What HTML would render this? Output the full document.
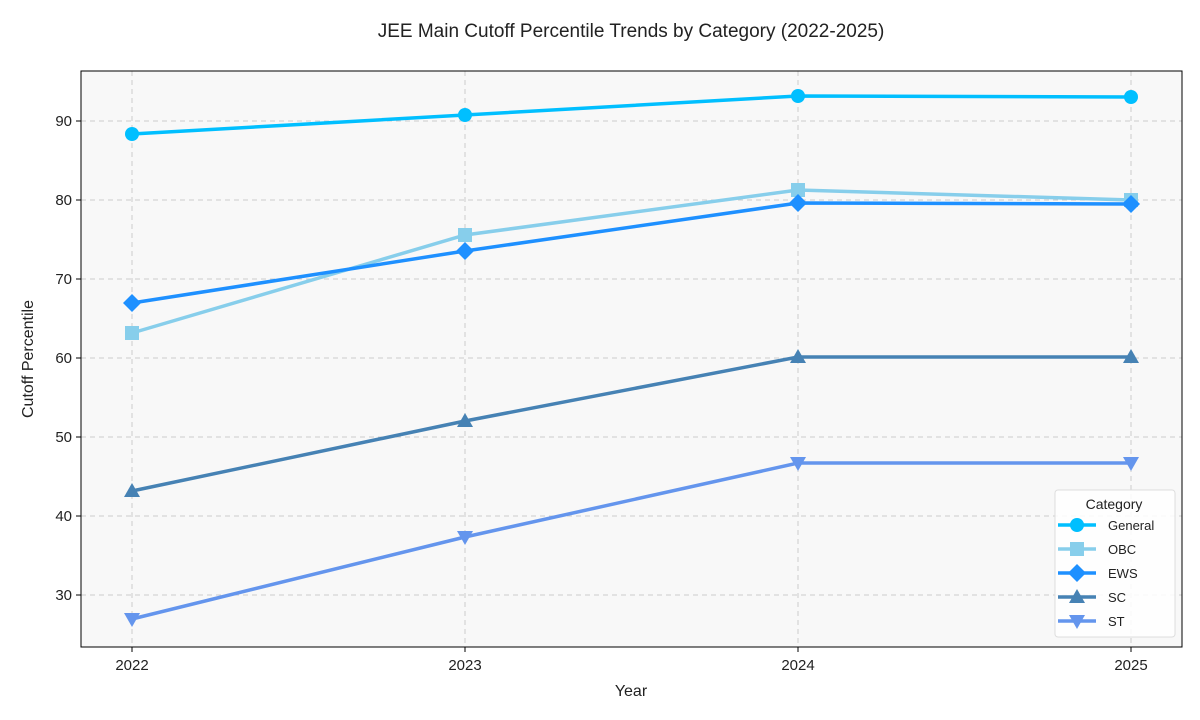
<!DOCTYPE html>
<html><head><meta charset="utf-8"><style>body{margin:0;background:#fff}svg{display:block}text{font-family:"Liberation Sans",sans-serif;fill:#222}</style></head><body>
<svg width="1200" height="720" viewBox="0 0 1200 720">
<rect x="81" y="71" width="1101" height="576" fill="#f8f8f8"/>
<g stroke="#cccccc" stroke-dasharray="5,4" stroke-width="1">
<line x1="132" y1="71" x2="132" y2="647"/><line x1="465" y1="71" x2="465" y2="647"/><line x1="798" y1="71" x2="798" y2="647"/><line x1="1131" y1="71" x2="1131" y2="647"/>
<line x1="81" y1="121" x2="1182" y2="121"/><line x1="81" y1="200" x2="1182" y2="200"/><line x1="81" y1="279" x2="1182" y2="279"/><line x1="81" y1="358" x2="1182" y2="358"/><line x1="81" y1="437" x2="1182" y2="437"/><line x1="81" y1="516" x2="1182" y2="516"/><line x1="81" y1="595" x2="1182" y2="595"/>
</g>
<rect x="81" y="71" width="1101" height="576" fill="none" stroke="#000" stroke-width="1"/>
<g stroke="#000"><line x1="132" y1="647" x2="132" y2="652"/><line x1="465" y1="647" x2="465" y2="652"/><line x1="798" y1="647" x2="798" y2="652"/><line x1="1131" y1="647" x2="1131" y2="652"/>
<line x1="76" y1="121" x2="81" y2="121"/><line x1="76" y1="200" x2="81" y2="200"/><line x1="76" y1="279" x2="81" y2="279"/><line x1="76" y1="358" x2="81" y2="358"/><line x1="76" y1="437" x2="81" y2="437"/><line x1="76" y1="516" x2="81" y2="516"/><line x1="76" y1="595" x2="81" y2="595"/></g>
<g font-size="15" text-anchor="middle"><text x="132" y="670">2022</text><text x="465" y="670">2023</text><text x="798" y="670">2024</text><text x="1131" y="670">2025</text></g>
<g font-size="15" text-anchor="end"><text x="72" y="126">90</text><text x="72" y="205">80</text><text x="72" y="284">70</text><text x="72" y="363">60</text><text x="72" y="442">50</text><text x="72" y="521">40</text><text x="72" y="600">30</text></g>
<text x="631" y="696" font-size="16" text-anchor="middle">Year</text>
<text transform="translate(33,359) rotate(-90)" font-size="16" text-anchor="middle">Cutoff Percentile</text>
<text x="631" y="37" font-size="19" text-anchor="middle">JEE Main Cutoff Percentile Trends by Category (2022-2025)</text>
<g fill="none" stroke-width="3.5">
<polyline stroke="#00bfff" points="132,134 465,115 798,96 1131,97"/>
<polyline stroke="#87ceeb" points="132,333 465,235 798,190 1131,200"/>
<polyline stroke="#1e90ff" points="132,303 465,251 798,203 1131,204"/>
<polyline stroke="#4682b4" points="132,491 465,421 798,357 1131,357"/>
<polyline stroke="#6495ed" points="132,619 465,537 798,463 1131,463"/>
</g>
<g fill="#00bfff"><circle cx="132" cy="134" r="7"/><circle cx="465" cy="115" r="7"/><circle cx="798" cy="96" r="7"/><circle cx="1131" cy="97" r="7"/></g>
<g fill="#87ceeb"><rect x="125" y="326" width="14" height="14"/><rect x="458" y="228" width="14" height="14"/><rect x="791" y="183" width="14" height="14"/><rect x="1124" y="193" width="14" height="14"/></g>
<g fill="#1e90ff"><path d="M132,294l9,9-9,9-9-9z"/><path d="M465,242l9,9-9,9-9-9z"/><path d="M798,194l9,9-9,9-9-9z"/><path d="M1131,195l9,9-9,9-9-9z"/></g>
<g fill="#4682b4"><path d="M132,483l8,14h-16z"/><path d="M465,413l8,14h-16z"/><path d="M798,349l8,14h-16z"/><path d="M1131,349l8,14h-16z"/></g>
<g fill="#6495ed"><path d="M132,627l8,-14h-16z"/><path d="M465,545l8,-14h-16z"/><path d="M798,471l8,-14h-16z"/><path d="M1131,471l8,-14h-16z"/></g>
<rect x="1055" y="490" width="120" height="147" rx="3" fill="#fff" fill-opacity="0.85" stroke="#ddd"/>
<text x="1114" y="509" font-size="14" text-anchor="middle">Category</text>
<g stroke-width="3.5">
<line x1="1058" y1="525" x2="1096" y2="525" stroke="#00bfff"/><line x1="1058" y1="549" x2="1096" y2="549" stroke="#87ceeb"/><line x1="1058" y1="573" x2="1096" y2="573" stroke="#1e90ff"/><line x1="1058" y1="597" x2="1096" y2="597" stroke="#4682b4"/><line x1="1058" y1="621" x2="1096" y2="621" stroke="#6495ed"/>
</g>
<circle cx="1077" cy="525" r="7" fill="#00bfff"/>
<rect x="1070" y="542" width="14" height="14" fill="#87ceeb"/>
<path d="M1077,564l9,9-9,9-9-9z" fill="#1e90ff"/>
<path d="M1077,589l8,14h-16z" fill="#4682b4"/>
<path d="M1077,629l8,-14h-16z" fill="#6495ed"/>
<g font-size="13"><text x="1108" y="530">General</text><text x="1108" y="554">OBC</text><text x="1108" y="578">EWS</text><text x="1108" y="602">SC</text><text x="1108" y="626">ST</text></g>
</svg>
</body></html>
